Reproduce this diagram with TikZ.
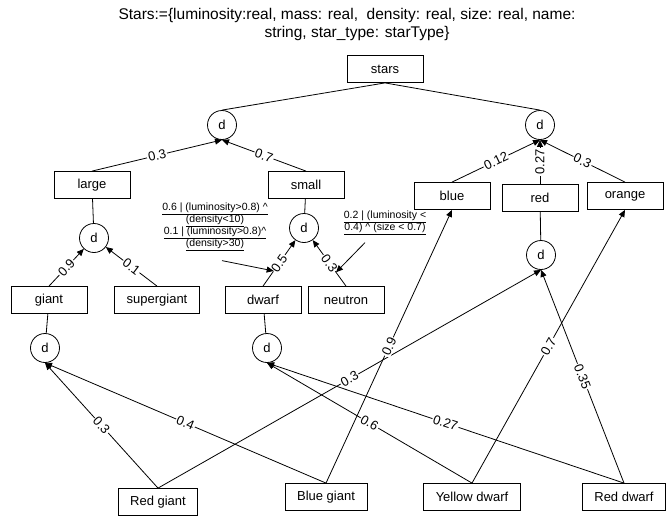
\documentclass[tikz,border=0pt]{standalone}
\usepackage{fontspec}
\setmainfont{Liberation Sans}
\usetikzlibrary{arrows.meta}
\tikzset{
    >={Triangle[length=7pt,width=6pt]},
    prob/.style={
        box/.append style={draw,rectangle,minimum width=76pt,minimum height=27pt,inner xsep=12pt},
        dec/.append style={draw,circle,minimum size=29pt,inner sep=0pt},
        wgt/.append style={sloped,fill=white,inner sep=1pt},
        note/.append style={align=center,font=\fontsize{10.5}{12}\selectfont},
        every edge/.append style={draw,line width=0.8pt}
    }
}

\begin{document}
\begin{tikzpicture}[prob,x=1pt,y=-1pt,line width=0.8pt,font=\fontsize{13}{15}\selectfont]
    \useasboundingbox (0,0) rectangle (670,517);
    \node[align=center,font=\fontsize{15.5}{18}\selectfont] (title) at (347,24) {Stars:=\{luminosity:real, mass: real,\ \ density: real, size: real, name:\\\hspace*{20pt}string, star\_type: starType\}};
    % root
    \node[box] (stars) at (385,69) {stars};
    \node[dec] (dl) at (222,125) {d};
    \node[dec] (dr) at (540,125) {d};
    \path (stars.south) edge (dl.north) edge (dr.north);
    % size
    \node[box] (large) at (92,185) {large};
    \node[box] (small) at (306,185) {small};
    \path (large.north) edge[->] node[wgt] {0.3} (dl.south);
    \path (small.north) edge[->] node[wgt] {0.7} (dl.south);
    \node[dec] (dlarge) at (94,238) {d};
    \node[dec] (dsmall) at (304,228) {d};
    \path (large) edge (dlarge) (small) edge (dsmall);
    \node[box] (giant) at (49,300) {giant};
    \node[box] (supergiant) at (157,300) {supergiant};
    \node[box] (dwarf) at (263,300) {dwarf};
    \node[box] (neutron) at (346,300) {neutron};
    \path (giant.north) edge[->] node[wgt] {0.9} (dlarge);
    \path (supergiant.north) edge[->] node[wgt] {0.1} (dlarge);
    \path (dwarf.north) edge[->] node[wgt] {0.5} node[coordinate,pos=.33] (ondwarf) {} (dsmall);
    \path (neutron.north) edge[->] node[wgt] {0.3} node[coordinate,pos=.3] (onneutron) {} (dsmall);
    \node[dec] (dgiant) at (45,348) {d};
    \node[dec] (ddwarf) at (267,348) {d};
    \path (giant) edge (dgiant) (dwarf) edge (ddwarf);
    % colour
    \node[box] (blue) at (452,196) {blue};
    \node[box] (red) at (540,198) {red};
    \node[box] (orange) at (625,196) {orange};
    \path (blue.north) edge[->] node[wgt] {0.12} (dr.south);
    \path (red.north) edge[->] node[wgt] {0.27} (dr.south);
    \path (orange.north) edge[->] node[wgt] {0.3} (dr.south);
    \node[dec] (dred) at (541,255) {d};
    \path (red) edge (dred);
    % star kinds
    \node[box] (redgiant) at (158,502) {Red giant};
    \node[box] (bluegiant) at (326,497) {Blue giant};
    \node[box] (yellowdwarf) at (472,497) {Yellow dwarf};
    \node[box] (reddwarf) at (624,497) {Red dwarf};
    \path (redgiant.north) edge[->] node[wgt] {0.3} (dgiant.south)
                           edge[->] node[wgt] {0.3} (dred.south);
    \path (bluegiant.north) edge[->] node[wgt] {0.4} (dgiant.south)
                            edge[->] node[wgt] {0.9} (blue.south);
    \path (yellowdwarf.north) edge[->] node[wgt] {0.6} (ddwarf.south)
                              edge[->] node[wgt] {0.7} (orange.south);
    \path (reddwarf.north) edge[->] node[wgt] {0.27} (ddwarf.south)
                           edge[->] node[wgt] {0.35} (dred.south);
    % conditions
    \node[note] (notel) at (215,227) {\underline{0.6 | (luminosity>0.8) \textasciicircum}\\\underline{(density<10)}\\\underline{0.1 | (luminosity>0.8)\textasciicircum}\\\underline{(density>30)}};
    \node[note] (noter) at (385,223) {\underline{0.2 | (luminosity <}\\\underline{0.4) \textasciicircum{} (size < 0.7)}};
    \draw[->] ([xshift=7pt,yshift=-6pt]notel.south) -- (ondwarf);
    \draw[->] ([xshift=-20pt,yshift=-4pt]noter.south) -- (onneutron);
\end{tikzpicture}
\end{document}
